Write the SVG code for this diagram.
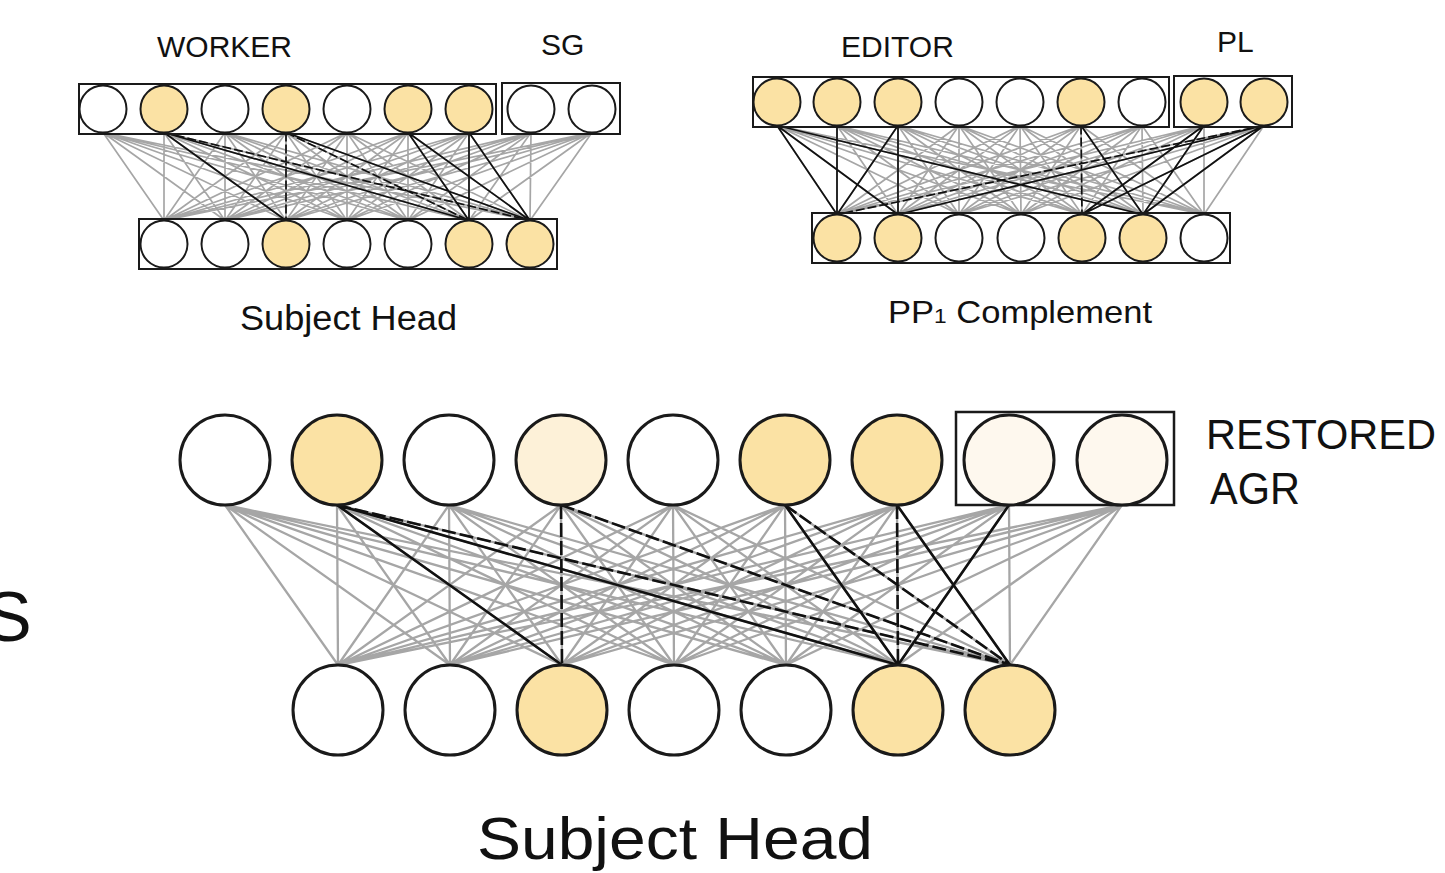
<svg xmlns="http://www.w3.org/2000/svg" width="1445" height="873" viewBox="0 0 1445 873">
<style>
.bg{fill:#ffffff}
.box{fill:none;stroke:#1a1a1a;stroke-width:2}
.bigbox{fill:none;stroke:#1a1a1a;stroke-width:2.5}
.n{stroke:#1a1a1a;stroke-width:2}
.nb{stroke:#1a1a1a;stroke-width:3}
.w{fill:#ffffff}
.g{fill:#FBE2A4}
.p{fill:#FDF1D8}
.vp{fill:#FEF8EE}
.gray{fill:none;stroke:#a6a6a6;stroke-width:1.7}
.grayb{fill:none;stroke:#a6a6a6;stroke-width:2.3}
.blk{fill:none;stroke:#111;stroke-width:1.7}
.blkb{fill:none;stroke:#111;stroke-width:2.6}
.dash{stroke-dasharray:9 3}
.dashb{stroke-dasharray:14 4}
.lbl{font-family:"Liberation Sans",Arial,sans-serif;fill:#111}
</style>
<rect class="bg" x="0" y="0" width="1445" height="873"/>

<g id="connectors">
<!-- top-left network gray -->
<path class="gray" d="M103 132.5L164 220.5M103 132.5L225 220.5M103 132.5L286 220.5M103 132.5L347 220.5M103 132.5L408 220.5M103 132.5L469 220.5M103 132.5L530 220.5M164 132.5L164 220.5M164 132.5L225 220.5M164 132.5L286 220.5M164 132.5L347 220.5M164 132.5L408 220.5M164 132.5L469 220.5M164 132.5L530 220.5M225 132.5L164 220.5M225 132.5L225 220.5M225 132.5L286 220.5M225 132.5L347 220.5M225 132.5L408 220.5M225 132.5L469 220.5M225 132.5L530 220.5M286 132.5L164 220.5M286 132.5L225 220.5M286 132.5L286 220.5M286 132.5L347 220.5M286 132.5L408 220.5M286 132.5L469 220.5M286 132.5L530 220.5M347 132.5L164 220.5M347 132.5L225 220.5M347 132.5L286 220.5M347 132.5L347 220.5M347 132.5L408 220.5M347 132.5L469 220.5M347 132.5L530 220.5M408 132.5L164 220.5M408 132.5L225 220.5M408 132.5L286 220.5M408 132.5L347 220.5M408 132.5L408 220.5M408 132.5L469 220.5M408 132.5L530 220.5M469 132.5L164 220.5M469 132.5L225 220.5M469 132.5L286 220.5M469 132.5L347 220.5M469 132.5L408 220.5M469 132.5L469 220.5M469 132.5L530 220.5M531 132.5L164 220.5M531 132.5L225 220.5M531 132.5L286 220.5M531 132.5L347 220.5M531 132.5L408 220.5M531 132.5L469 220.5M531 132.5L530 220.5M592 132.5L164 220.5M592 132.5L225 220.5M592 132.5L286 220.5M592 132.5L347 220.5M592 132.5L408 220.5M592 132.5L469 220.5M592 132.5L530 220.5"/>
<path class="blk" d="M164 132.5L286 220.5M164 132.5L469 220.5M286 132.5L530 220.5M408 132.5L469 220.5M408 132.5L530 220.5M469 132.5L469 220.5M469 132.5L530 220.5"/>
<path class="blk dash" d="M164 132.5L530 220.5M286 132.5L286 220.5M286 132.5L469 220.5"/>

<!-- top-right network gray -->
<path class="gray" d="M777 125.5L837 214.5M777 125.5L898 214.5M777 125.5L959 214.5M777 125.5L1021 214.5M777 125.5L1082 214.5M777 125.5L1143 214.5M777 125.5L1204 214.5M837 125.5L837 214.5M837 125.5L898 214.5M837 125.5L959 214.5M837 125.5L1021 214.5M837 125.5L1082 214.5M837 125.5L1143 214.5M837 125.5L1204 214.5M898 125.5L837 214.5M898 125.5L898 214.5M898 125.5L959 214.5M898 125.5L1021 214.5M898 125.5L1082 214.5M898 125.5L1143 214.5M898 125.5L1204 214.5M959 125.5L837 214.5M959 125.5L898 214.5M959 125.5L959 214.5M959 125.5L1021 214.5M959 125.5L1082 214.5M959 125.5L1143 214.5M959 125.5L1204 214.5M1020 125.5L837 214.5M1020 125.5L898 214.5M1020 125.5L959 214.5M1020 125.5L1021 214.5M1020 125.5L1082 214.5M1020 125.5L1143 214.5M1020 125.5L1204 214.5M1081 125.5L837 214.5M1081 125.5L898 214.5M1081 125.5L959 214.5M1081 125.5L1021 214.5M1081 125.5L1082 214.5M1081 125.5L1143 214.5M1081 125.5L1204 214.5M1142 125.5L837 214.5M1142 125.5L898 214.5M1142 125.5L959 214.5M1142 125.5L1021 214.5M1142 125.5L1082 214.5M1142 125.5L1143 214.5M1142 125.5L1204 214.5M1204 125.5L837 214.5M1204 125.5L898 214.5M1204 125.5L959 214.5M1204 125.5L1021 214.5M1204 125.5L1082 214.5M1204 125.5L1143 214.5M1204 125.5L1204 214.5M1264 125.5L837 214.5M1264 125.5L898 214.5M1264 125.5L959 214.5M1264 125.5L1021 214.5M1264 125.5L1082 214.5M1264 125.5L1143 214.5M1264 125.5L1204 214.5"/>
<path class="blk" d="M777 125.5L837 214.5M777 125.5L898 214.5M777 125.5L1143 214.5M837 125.5L837 214.5M898 125.5L837 214.5M898 125.5L898 214.5M1081 125.5L1143 214.5M1204 125.5L1082 214.5M1204 125.5L1143 214.5M1264 125.5L898 214.5M1264 125.5L1082 214.5M1264 125.5L1143 214.5"/>
<path class="blk dash" d="M1081 125.5L1082 214.5M1264 125.5L837 214.5"/>

<!-- big network gray -->
<path class="grayb" d="M225 505L338 665M225 505L450 665M225 505L562 665M225 505L674 665M225 505L786 665M225 505L898 665M225 505L1010 665M337 505L338 665M337 505L450 665M337 505L562 665M337 505L674 665M337 505L786 665M337 505L898 665M337 505L1010 665M449 505L338 665M449 505L450 665M449 505L562 665M449 505L674 665M449 505L786 665M449 505L898 665M449 505L1010 665M561 505L338 665M561 505L450 665M561 505L562 665M561 505L674 665M561 505L786 665M561 505L898 665M561 505L1010 665M673 505L338 665M673 505L450 665M673 505L562 665M673 505L674 665M673 505L786 665M673 505L898 665M673 505L1010 665M785 505L338 665M785 505L450 665M785 505L562 665M785 505L674 665M785 505L786 665M785 505L898 665M785 505L1010 665M897 505L338 665M897 505L450 665M897 505L562 665M897 505L674 665M897 505L786 665M897 505L898 665M897 505L1010 665M1009 505L338 665M1009 505L450 665M1009 505L562 665M1009 505L674 665M1009 505L786 665M1009 505L898 665M1009 505L1010 665M1122 505L338 665M1122 505L450 665M1122 505L562 665M1122 505L674 665M1122 505L786 665M1122 505L898 665M1122 505L1010 665"/>
<path class="blkb" d="M337 505L562 665M337 505L898 665M785 505L898 665M897 505L1010 665M1009 505L898 665"/>
<path class="blkb dashb" d="M337 505L1010 665M561 505L562 665M561 505L1010 665M785 505L1010 665M897 505L898 665"/>
</g>

<!-- top-left network -->
<g id="tl-worker-box"><rect class="box" x="79" y="84" width="417" height="50"/></g>
<g id="tl-sg-box"><rect class="box" x="502" y="83" width="118" height="51"/></g>
<g id="tl-bottom-box"><rect class="box" x="139" y="219" width="418" height="50"/></g>
<g id="tl-t1"><circle class="n w" cx="103" cy="109" r="23.5"/></g>
<g id="tl-t2"><circle class="n g" cx="164" cy="109" r="23.5"/></g>
<g id="tl-t3"><circle class="n w" cx="225" cy="109" r="23.5"/></g>
<g id="tl-t4"><circle class="n g" cx="286" cy="109" r="23.5"/></g>
<g id="tl-t5"><circle class="n w" cx="347" cy="109" r="23.5"/></g>
<g id="tl-t6"><circle class="n g" cx="408" cy="109" r="23.5"/></g>
<g id="tl-t7"><circle class="n g" cx="469" cy="109" r="23.5"/></g>
<g id="tl-t8"><circle class="n w" cx="531" cy="109" r="23.5"/></g>
<g id="tl-t9"><circle class="n w" cx="592" cy="109" r="23.5"/></g>
<g id="tl-b1"><circle class="n w" cx="164" cy="244" r="23.5"/></g>
<g id="tl-b2"><circle class="n w" cx="225" cy="244" r="23.5"/></g>
<g id="tl-b3"><circle class="n g" cx="286" cy="244" r="23.5"/></g>
<g id="tl-b4"><circle class="n w" cx="347" cy="244" r="23.5"/></g>
<g id="tl-b5"><circle class="n w" cx="408" cy="244" r="23.5"/></g>
<g id="tl-b6"><circle class="n g" cx="469" cy="244" r="23.5"/></g>
<g id="tl-b7"><circle class="n g" cx="530" cy="244" r="23.5"/></g>

<!-- top-right network -->
<g id="tr-editor-box"><rect class="box" x="753" y="77" width="416" height="50"/></g>
<g id="tr-pl-box"><rect class="box" x="1174" y="76" width="118" height="51"/></g>
<g id="tr-bottom-box"><rect class="box" x="812" y="213" width="418" height="50"/></g>
<g id="tr-t1"><circle class="n g" cx="777" cy="102" r="23.5"/></g>
<g id="tr-t2"><circle class="n g" cx="837" cy="102" r="23.5"/></g>
<g id="tr-t3"><circle class="n g" cx="898" cy="102" r="23.5"/></g>
<g id="tr-t4"><circle class="n w" cx="959" cy="102" r="23.5"/></g>
<g id="tr-t5"><circle class="n w" cx="1020" cy="102" r="23.5"/></g>
<g id="tr-t6"><circle class="n g" cx="1081" cy="102" r="23.5"/></g>
<g id="tr-t7"><circle class="n w" cx="1142" cy="102" r="23.5"/></g>
<g id="tr-t8"><circle class="n g" cx="1204" cy="102" r="23.5"/></g>
<g id="tr-t9"><circle class="n g" cx="1264" cy="102" r="23.5"/></g>
<g id="tr-b1"><circle class="n g" cx="837" cy="238" r="23.5"/></g>
<g id="tr-b2"><circle class="n g" cx="898" cy="238" r="23.5"/></g>
<g id="tr-b3"><circle class="n w" cx="959" cy="238" r="23.5"/></g>
<g id="tr-b4"><circle class="n w" cx="1021" cy="238" r="23.5"/></g>
<g id="tr-b5"><circle class="n g" cx="1082" cy="238" r="23.5"/></g>
<g id="tr-b6"><circle class="n g" cx="1143" cy="238" r="23.5"/></g>
<g id="tr-b7"><circle class="n w" cx="1204" cy="238" r="23.5"/></g>

<!-- big network -->
<g id="big-restored-box"><rect class="bigbox" x="956" y="412" width="218" height="93"/></g>
<g id="big-t1"><circle class="nb w" cx="225" cy="460" r="45"/></g>
<g id="big-t2"><circle class="nb g" cx="337" cy="460" r="45"/></g>
<g id="big-t3"><circle class="nb w" cx="449" cy="460" r="45"/></g>
<g id="big-t4"><circle class="nb p" cx="561" cy="460" r="45"/></g>
<g id="big-t5"><circle class="nb w" cx="673" cy="460" r="45"/></g>
<g id="big-t6"><circle class="nb g" cx="785" cy="460" r="45"/></g>
<g id="big-t7"><circle class="nb g" cx="897" cy="460" r="45"/></g>
<g id="big-t8"><circle class="nb vp" cx="1009" cy="460" r="45"/></g>
<g id="big-t9"><circle class="nb vp" cx="1122" cy="460" r="45"/></g>
<g id="big-b1"><circle class="nb w" cx="338" cy="710" r="45"/></g>
<g id="big-b2"><circle class="nb w" cx="450" cy="710" r="45"/></g>
<g id="big-b3"><circle class="nb g" cx="562" cy="710" r="45"/></g>
<g id="big-b4"><circle class="nb w" cx="674" cy="710" r="45"/></g>
<g id="big-b5"><circle class="nb w" cx="786" cy="710" r="45"/></g>
<g id="big-b6"><circle class="nb g" cx="898" cy="710" r="45"/></g>
<g id="big-b7"><circle class="nb g" cx="1010" cy="710" r="45"/></g>

<!-- labels -->
<g id="labels">
<text class="lbl" x="157" y="57" font-size="30">WORKER</text>
<text class="lbl" x="541" y="55" font-size="30">SG</text>
<text class="lbl" x="841" y="57" font-size="30">EDITOR</text>
<text class="lbl" x="1217" y="52" font-size="30">PL</text>
<text class="lbl" x="240" y="330" font-size="35" textLength="217" lengthAdjust="spacingAndGlyphs">Subject Head</text>
<text class="lbl" x="888" y="323" font-size="32" textLength="264" lengthAdjust="spacingAndGlyphs">PP<tspan font-size="21">1</tspan> Complement</text>
<text class="lbl" x="1206" y="449" font-size="42" textLength="230" lengthAdjust="spacingAndGlyphs">RESTORED</text>
<text class="lbl" x="1210" y="504" font-size="44" textLength="90" lengthAdjust="spacingAndGlyphs">AGR</text>
<text class="lbl" x="477" y="859" font-size="60" textLength="396" lengthAdjust="spacingAndGlyphs">Subject Head</text>
<text class="lbl" x="-15" y="641" font-size="70">S</text>
</g>
</svg>
